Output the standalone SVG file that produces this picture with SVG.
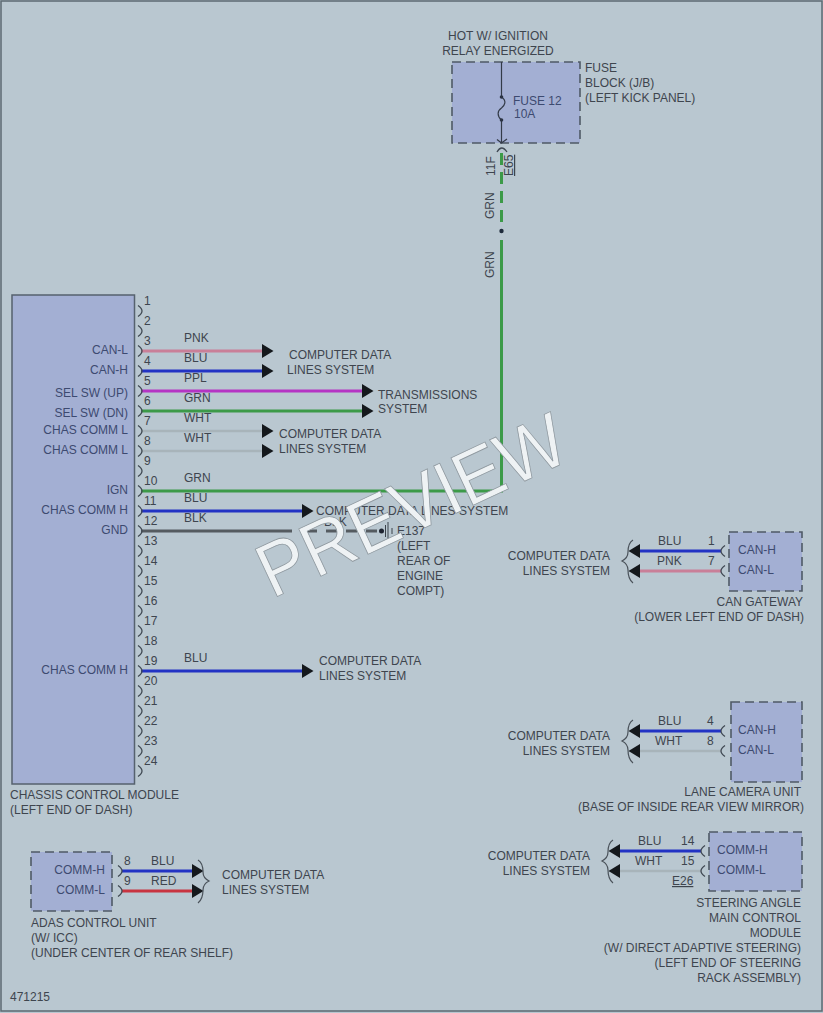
<svg xmlns="http://www.w3.org/2000/svg" width="823" height="1013" viewBox="0 0 823 1013">
<style>
text{font-family:"Liberation Sans",Arial,sans-serif;font-size:12px;fill:#3e454e}
.r{text-anchor:end}
.m{text-anchor:middle}
.n{fill:#3d4a70}
.box{fill:#a3afd3;stroke:#4f5a66;stroke-width:1.6;stroke-dasharray:9 5}
.w{fill:none;stroke-width:3}
.pnk{stroke:#c97f98}.blu{stroke:#2233c4}.ppl{stroke:#b534c4}.grn{stroke:#3c9a48}.wht{stroke:#a8b4ba;stroke-width:2.5}.blk{stroke:#555b60}.red{stroke:#c83440}
.a{fill:none;stroke:#3f4852;stroke-width:1.3}
.br{fill:none;stroke:#4a525a;stroke-width:1.2}
.wm{font-size:76px;fill:#eef2f4;stroke:#8d979e;stroke-width:.8}
</style>
<defs>
<path id="pr" class="a" d="M0-5.500Q8 0 0 5.500"/>
<path id="pl" class="a" d="M0-5.500Q-8 0 0 5.500"/>
<path id="ar" fill="#14181c" d="M0-7L11.500 0L0 7Z"/>
<path id="al" fill="#14181c" d="M0-7L-11.500 0L0 7Z"/>
<path id="bl" class="br" d="M7-21Q2-18 2-9Q2-3-4 0Q2 3 2 9Q2 18 7 22"/>
<path id="brr" class="br" d="M-7-21Q-2-18-2-9Q-2-3 4 0Q-2 3-2 9Q-2 18-7 22"/>
</defs>
<rect x="0" y="0" width="823" height="1013" fill="#b9c7d0"/>
<rect x="1" y="1" width="821" height="1010" fill="none" stroke="#5c6a72" stroke-width="1.500"/>

<g id="connectors">
<path class="w pnk" d="M141 351H262"/>
<path class="w blu" d="M141 371H262"/>
<path class="w ppl" d="M141 391H362"/>
<path class="w grn" d="M141 411H362"/>
<path class="w wht" d="M141 431H262"/>
<path class="w wht" d="M141 451H262"/>
<path class="w grn" d="M141 491H501.500V240"/>
<path class="w grn" d="M501.500 153V224" stroke-dasharray="12 7"/>
<circle cx="501.500" cy="231" r="2.200" fill="#1e2a3a"/>
<path class="w blu" d="M141 511H302"/>
<path class="w blk" d="M141 531H292"/>
<path class="w blk" stroke-width="2" d="M306 531H378" stroke-dasharray="11 9"/>
<circle cx="381.500" cy="531" r="2.500" fill="#1e2430"/>
<path fill="none" stroke="#3a424a" stroke-width="1" d="M385.500 525V537M388 522V540M392 528V534"/>
<path class="w blu" d="M141 671H302"/>
<path class="w blu" d="M640 551H721"/>
<path class="w pnk" d="M640 571H721"/>
<path class="w blu" d="M640 731H721"/>
<path class="w wht" d="M640 751H721"/>
<path class="w blu" d="M620 851H701"/>
<path class="w wht" d="M620 871H701"/>
<path class="w blu" d="M122 871H192"/>
<path class="w red" d="M122 891H192"/>
<g>
<use href="#ar" x="262" y="351"/><use href="#ar" x="262" y="371"/><use href="#ar" x="362" y="391"/><use href="#ar" x="362" y="411"/><use href="#ar" x="262" y="431"/><use href="#ar" x="262" y="451"/><use href="#ar" x="302" y="511"/><use href="#ar" x="302" y="671"/>
<use href="#al" x="640" y="551"/><use href="#al" x="640" y="571"/><use href="#al" x="640" y="731"/><use href="#al" x="640" y="751"/><use href="#al" x="620" y="851"/><use href="#al" x="620" y="871"/>
<use href="#ar" x="192" y="871"/><use href="#ar" x="192" y="891"/>
</g>
<use href="#bl" x="626" y="561"/><use href="#bl" x="626" y="741"/><use href="#bl" x="606" y="861"/><use href="#brr" x="205" y="881"/>
</g>

<g id="fuse-block">
<rect class="box" x="452" y="62" width="128" height="81"/>
<path fill="none" stroke="#333b48" stroke-width="1.200" d="M501.500 62V97C507 101 505 105 501.500 108C497 111 497 116 501.500 120V142M497 139.500L501.500 143L507 139"/>
<circle cx="501.500" cy="97" r="1.800" fill="#2b3344"/><circle cx="501.500" cy="120" r="1.800" fill="#2b3344"/>
<path class="a" d="M497 152Q501.500 144 507 152"/>
<text class="n" x="513" y="105">FUSE 12</text><text class="n" x="514" y="118">10A</text>
<text class="m" x="498" y="40">HOT W/ IGNITION</text><text class="m" x="498" y="55">RELAY ENERGIZED</text>
<text x="585" y="72">FUSE</text><text x="585" y="87">BLOCK (J/B)</text><text x="585" y="102">(LEFT KICK PANEL)</text>
<text transform="translate(495 176) rotate(-90)">11F</text>
<text transform="translate(513 176) rotate(-90)" text-decoration="underline">E65</text>
<text transform="translate(494 219) rotate(-90)">GRN</text>
<text transform="translate(494 278) rotate(-90)">GRN</text>
</g>

<g id="chassis-control-module">
<rect x="12" y="295" width="122.500" height="489" fill="#a3afd3" stroke="#56626e" stroke-width="1.500"/>
<g class="pins">
<use href="#pr" x="138" y="311"/><use href="#pr" x="138" y="331"/><use href="#pr" x="138" y="351"/><use href="#pr" x="138" y="371"/><use href="#pr" x="138" y="391"/><use href="#pr" x="138" y="411"/><use href="#pr" x="138" y="431"/><use href="#pr" x="138" y="451"/><use href="#pr" x="138" y="471"/><use href="#pr" x="138" y="491"/><use href="#pr" x="138" y="511"/><use href="#pr" x="138" y="531"/><use href="#pr" x="138" y="551"/><use href="#pr" x="138" y="571"/><use href="#pr" x="138" y="591"/><use href="#pr" x="138" y="611"/><use href="#pr" x="138" y="631"/><use href="#pr" x="138" y="651"/><use href="#pr" x="138" y="671"/><use href="#pr" x="138" y="691"/><use href="#pr" x="138" y="711"/><use href="#pr" x="138" y="731"/><use href="#pr" x="138" y="751"/><use href="#pr" x="138" y="771"/>
</g>
<g>
<text x="144" y="305">1</text><text x="144" y="325">2</text><text x="144" y="345">3</text><text x="144" y="365">4</text><text x="144" y="385">5</text><text x="144" y="405">6</text><text x="144" y="425">7</text><text x="144" y="445">8</text><text x="144" y="465">9</text><text x="144" y="485">10</text><text x="144" y="505">11</text><text x="144" y="525">12</text><text x="144" y="545">13</text><text x="144" y="565">14</text><text x="144" y="585">15</text><text x="144" y="605">16</text><text x="144" y="625">17</text><text x="144" y="645">18</text><text x="144" y="665">19</text><text x="144" y="685">20</text><text x="144" y="705">21</text><text x="144" y="725">22</text><text x="144" y="745">23</text><text x="144" y="765">24</text>
</g>
<g>
<text class="r n" x="128" y="354">CAN-L</text><text class="r n" x="128" y="374">CAN-H</text><text class="r n" x="128" y="397">SEL SW (UP)</text><text class="r n" x="128" y="417">SEL SW (DN)</text><text class="r n" x="128" y="434">CHAS COMM L</text><text class="r n" x="128" y="454">CHAS COMM L</text><text class="r n" x="128" y="494">IGN</text><text class="r n" x="128" y="514">CHAS COMM H</text><text class="r n" x="128" y="534">GND</text><text class="r n" x="128" y="674">CHAS COMM H</text>
</g>
<g>
<text x="184" y="342">PNK</text><text x="184" y="362">BLU</text><text x="184" y="382">PPL</text><text x="184" y="402">GRN</text><text x="184" y="422">WHT</text><text x="184" y="442">WHT</text><text x="184" y="482">GRN</text><text x="184" y="502">BLU</text><text x="184" y="522">BLK</text><text x="184" y="662">BLU</text>
</g>
<text x="10" y="799">CHASSIS CONTROL MODULE</text><text x="10" y="814">(LEFT END OF DASH)</text>
</g>

<g id="destinations">
<text x="289" y="359">COMPUTER DATA</text><text x="287" y="374">LINES SYSTEM</text>
<text x="378" y="399">TRANSMISSIONS</text><text x="378" y="413">SYSTEM</text>
<text x="279" y="438">COMPUTER DATA</text><text x="279" y="453">LINES SYSTEM</text>
<text x="316" y="515">COMPUTER DATA LINES SYSTEM</text>
<text x="324" y="526">BLK</text>
<text x="397" y="535">E137</text><text x="397" y="550">(LEFT</text><text x="397" y="565">REAR OF</text><text x="397" y="580">ENGINE</text><text x="397" y="595">COMPT)</text>
<text x="319" y="665">COMPUTER DATA</text><text x="319" y="680">LINES SYSTEM</text>
<text class="r" x="610" y="560">COMPUTER DATA</text><text class="r" x="610" y="575">LINES SYSTEM</text>
<text class="r" x="610" y="740">COMPUTER DATA</text><text class="r" x="610" y="755">LINES SYSTEM</text>
<text class="r" x="590" y="860">COMPUTER DATA</text><text class="r" x="590" y="875">LINES SYSTEM</text>
<text x="222" y="879">COMPUTER DATA</text><text x="222" y="894">LINES SYSTEM</text>
</g>

<g id="can-gateway">
<rect class="box" x="729" y="532" width="73" height="59"/>
<use href="#pl" x="725" y="551"/><use href="#pl" x="725" y="571"/>
<text class="n" x="738" y="554">CAN-H</text><text class="n" x="738" y="574">CAN-L</text>
<text x="658" y="545">BLU</text><text x="657" y="565">PNK</text><text x="708" y="545">1</text><text x="708" y="565">7</text>
<text class="r" x="803" y="606">CAN GATEWAY</text><text class="r" x="804" y="621">(LOWER LEFT END OF DASH)</text>
</g>

<g id="lane-camera-unit">
<rect class="box" x="731" y="702" width="71" height="80"/>
<use href="#pl" x="725" y="731"/><use href="#pl" x="725" y="751"/>
<text class="n" x="738" y="734">CAN-H</text><text class="n" x="738" y="754">CAN-L</text>
<text x="658" y="725">BLU</text><text x="655" y="745">WHT</text><text x="707" y="725">4</text><text x="707" y="745">8</text>
<text class="r" x="801" y="796">LANE CAMERA UNIT</text><text class="r" x="804" y="811">(BASE OF INSIDE REAR VIEW MIRROR)</text>
</g>

<g id="steering-angle-main-control-module">
<rect class="box" x="709" y="832" width="93" height="59"/>
<use href="#pl" x="705" y="851"/><use href="#pl" x="705" y="871"/>
<text class="n" x="717" y="854">COMM-H</text><text class="n" x="717" y="874">COMM-L</text>
<text x="638" y="845">BLU</text><text x="635" y="865">WHT</text><text x="681" y="845">14</text><text x="681" y="865">15</text>
<text x="672" y="885" text-decoration="underline">E26</text>
<text class="r" x="801" y="907">STEERING ANGLE</text><text class="r" x="801" y="922">MAIN CONTROL</text><text class="r" x="801" y="937">MODULE</text><text class="r" x="801" y="952">(W/ DIRECT ADAPTIVE STEERING)</text><text class="r" x="801" y="967">(LEFT END OF STEERING</text><text class="r" x="801" y="982">RACK ASSEMBLY)</text>
</g>

<g id="adas-control-unit">
<rect class="box" x="31" y="852" width="81" height="59"/>
<use href="#pr" x="118" y="871"/><use href="#pr" x="118" y="891"/>
<text class="r n" x="105" y="874">COMM-H</text><text class="r n" x="105" y="894">COMM-L</text>
<text x="124" y="865">8</text><text x="124" y="885">9</text><text x="151" y="865">BLU</text><text x="151" y="885">RED</text>
<text x="31" y="927">ADAS CONTROL UNIT</text><text x="31" y="942">(W/ ICC)</text><text x="31" y="957">(UNDER CENTER OF REAR SHELF)</text>
</g>

<text x="10" y="1001">471215</text>
<text class="wm" transform="translate(272 599) rotate(-25)" textLength="332" lengthAdjust="spacingAndGlyphs">PREVIEW</text>
</svg>
